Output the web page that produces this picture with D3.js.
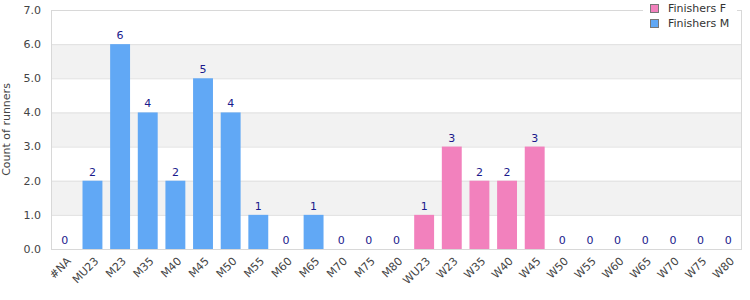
<!DOCTYPE html>
<html><head><meta charset="utf-8">
<script src="https://cdn.jsdelivr.net/npm/d3@7"></script>
<style>body{margin:0;background:#fff;} svg{display:block;font-family:"DejaVu Sans",sans-serif;}</style>
</head><body>
<svg id="c" width="750" height="300"></svg>
<script>
const categories = ["#NA","MU23","M23","M35","M40","M45","M50","M55","M60","M65","M70","M75","M80","WU23","W23","W35","W40","W45","W50","W55","W60","W65","W70","W75","W80"];
const finishersM = [0,2,6,4,2,5,4,1,0,1,0,0,0,0,0,0,0,0,0,0,0,0,0,0,0];
const finishersF = [0,0,0,0,0,0,0,0,0,0,0,0,0,1,3,2,2,3,0,0,0,0,0,0,0];
const yTicks = [0,1,2,3,4,5,6,7];
const seriesNames = ["Finishers F","Finishers M"];
const colors = {"Finishers F":"#f281bd","Finishers M":"#61a8f5"};

const svg = d3.select("#c");
const m = {l:51, r:8, t:10, b:51};
const W = 750, H = 300;
const x = d3.scaleBand().domain(categories).range([m.l, W-m.r]).paddingInner(0.28).paddingOuter(0.14);
const y = d3.scaleLinear().domain([0,7]).range([H-m.b, m.t]);

const g = svg.append("g");
for (let i=0;i<yTicks.length-1;i++){
  if (i%2===1){
    g.append("rect").attr("x",m.l).attr("width",W-m.r-m.l)
     .attr("y",y(yTicks[i+1])).attr("height",y(yTicks[i])-y(yTicks[i+1])).attr("fill","#f2f2f2");
  }
}
g.selectAll("line.grid").data(yTicks).join("line").attr("class","grid")
 .attr("x1",m.l).attr("x2",W-m.r).attr("y1",d=>y(d)+0.5).attr("y2",d=>y(d)+0.5)
 .attr("stroke","#e0e0e0");
svg.append("rect").attr("x",m.l+0.5).attr("y",m.t+0.5).attr("width",W-m.r-m.l-1).attr("height",H-m.b-m.t)
 .attr("fill","none").attr("stroke","#d8d8d8");

const data = categories.map((c,i)=>({c, m:finishersM[i], f:finishersF[i]}));
svg.append("g").selectAll("rect").data(data.filter(d=>d.m>0)).join("rect")
 .attr("x",d=>x(d.c)).attr("width",x.bandwidth()).attr("y",d=>y(d.m)).attr("height",d=>y(0)-y(d.m))
 .attr("fill",colors["Finishers M"]);
svg.append("g").selectAll("rect").data(data.filter(d=>d.f>0)).join("rect")
 .attr("x",d=>x(d.c)).attr("width",x.bandwidth()).attr("y",d=>y(d.m)-(y(0)-y(d.f))).attr("height",d=>y(0)-y(d.f))
 .attr("fill",colors["Finishers F"]);
svg.append("g").selectAll("text").data(data).join("text")
 .attr("x",d=>x(d.c)+x.bandwidth()/2).attr("y",d=>y(d.m+d.f)-5)
 .attr("text-anchor","middle").attr("font-size",11).attr("fill","#1a1a8c")
 .text(d=>d.m+d.f);

const ya = svg.append("g");
ya.selectAll("text").data(yTicks).join("text")
 .attr("x",m.l-10).attr("y",d=>y(d)).attr("dy","0.35em").attr("text-anchor","end")
 .attr("font-size",11).attr("fill","#444").text(d=>d3.format(".1f")(d));
svg.append("text").attr("transform",`translate(6,${(m.t+H-m.b)/2}) rotate(-90)`)
 .attr("text-anchor","middle").attr("dy","0.35em").attr("font-size",11).attr("fill","#444").text("Count of runners");

svg.append("g").selectAll("text").data(categories).join("text")
 .attr("transform",d=>`translate(${x(d)+x.bandwidth()/2+4},${H-m.b+10}) rotate(-45)`)
 .attr("text-anchor","end").attr("dy","0.35em").attr("font-size",11).attr("fill","#444").text(d=>d);

const lg = svg.append("g");
lg.append("rect").attr("x",643).attr("y",0).attr("width",94).attr("height",36).attr("fill","#fff");
seriesNames.forEach((s,i)=>{
  lg.append("rect").attr("x",650.5).attr("y",4.5+i*15).attr("width",8).attr("height",8)
   .attr("fill",colors[s]).attr("stroke","#777");
  lg.append("text").attr("x",668).attr("y",8.5+i*15).attr("dy","0.35em").attr("font-size",11).attr("fill","#333").text(s);
});
</script>
</body></html>
